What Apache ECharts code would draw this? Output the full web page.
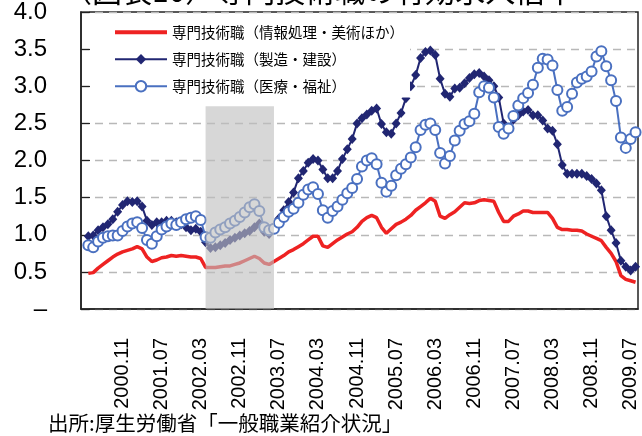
<!DOCTYPE html>
<html>
<head>
<meta charset="utf-8">
<script src="https://cdn.jsdelivr.net/npm/echarts@6/dist/echarts.min.js"></script>
<style>
  html, body { margin: 0; padding: 0; background: #fff; }
  #container { width: 642px; height: 436px; }
</style>
</head>
<body>
<div id="container"></div>
<script>
// 月次カテゴリ（2000.03〜2009.08）
let months = [
  '2000.03', '2000.04', '2000.05', '2000.06', '2000.07', '2000.08', '2000.09', '2000.10', '2000.11', '2000.12',
  '2001.01', '2001.02', '2001.03', '2001.04', '2001.05', '2001.06', '2001.07', '2001.08', '2001.09', '2001.10', '2001.11', '2001.12',
  '2002.01', '2002.02', '2002.03', '2002.04', '2002.05', '2002.06', '2002.07', '2002.08', '2002.09', '2002.10', '2002.11', '2002.12',
  '2003.01', '2003.02', '2003.03', '2003.04', '2003.05', '2003.06', '2003.07', '2003.08', '2003.09', '2003.10', '2003.11', '2003.12',
  '2004.01', '2004.02', '2004.03', '2004.04', '2004.05', '2004.06', '2004.07', '2004.08', '2004.09', '2004.10', '2004.11', '2004.12',
  '2005.01', '2005.02', '2005.03', '2005.04', '2005.05', '2005.06', '2005.07', '2005.08', '2005.09', '2005.10', '2005.11', '2005.12',
  '2006.01', '2006.02', '2006.03', '2006.04', '2006.05', '2006.06', '2006.07', '2006.08', '2006.09', '2006.10', '2006.11', '2006.12',
  '2007.01', '2007.02', '2007.03', '2007.04', '2007.05', '2007.06', '2007.07', '2007.08', '2007.09', '2007.10', '2007.11', '2007.12',
  '2008.01', '2008.02', '2008.03', '2008.04', '2008.05', '2008.06', '2008.07', '2008.08', '2008.09', '2008.10', '2008.11', '2008.12',
  '2009.01', '2009.02', '2009.03', '2009.04', '2009.05', '2009.06', '2009.07', '2009.08'
];
// 目盛ラベルに出す月
let shownLabels = ['2000.11', '2001.07', '2002.03', '2002.11', '2003.07', '2004.03', '2004.11',
  '2005.07', '2006.03', '2006.11', '2007.07', '2008.03', '2008.11', '2009.07'];

let seriesNames = ['専門技術職（情報処理・美術ほか）', '専門技術職（製造・建設）', '専門技術職（医療・福祉）'];

// 情報処理・美術ほか
let infoArt = [null,
  0.48, 0.49, 0.55, 0.60, 0.65, 0.70, 0.74, 0.77, 0.79, 0.81,
  0.84, 0.81, 0.70, 0.64, 0.66, 0.69, 0.70, 0.72, 0.71, 0.72,
  0.71, 0.70, 0.70, 0.68, 0.56, 0.56, 0.56, 0.57, 0.58, 0.58,
  0.60, 0.62, 0.65, 0.68, 0.71, 0.68, 0.62, 0.60, 0.64, 0.68,
  0.72, 0.77, 0.80, 0.84, 0.88, 0.93, 0.98, 0.98, 0.85, 0.83,
  0.88, 0.93, 0.97, 1.01, 1.04, 1.10, 1.18, 1.23, 1.26, 1.23,
  1.10, 1.02, 1.08, 1.14, 1.17, 1.21, 1.26, 1.33, 1.38, 1.43,
  1.49, 1.45, 1.25, 1.22, 1.27, 1.31, 1.37, 1.43, 1.42, 1.43,
  1.46, 1.47, 1.46, 1.45, 1.30, 1.18, 1.18, 1.25, 1.28, 1.32,
  1.32, 1.30, 1.30, 1.30, 1.30, 1.22, 1.10, 1.07, 1.07, 1.06,
  1.06, 1.05, 1.01, 0.98, 0.95, 0.92, 0.83, 0.75, 0.64, 0.45,
  0.40, 0.38, 0.36];
// 製造・建設
let mfgBuild = [null,
  0.98, 0.99, 1.06, 1.10, 1.14, 1.21, 1.31, 1.40, 1.45, 1.44,
  1.45, 1.38, 1.19, 1.13, 1.17, 1.17, 1.19, 1.19, 1.17, 1.14,
  1.10, 1.06, 1.08, 1.04, 0.90, 0.82, 0.83, 0.86, 0.89, 0.93,
  0.96, 0.99, 1.02, 1.05, 1.10, 1.15, 1.04, 1.01, 1.10, 1.22,
  1.33, 1.44, 1.57, 1.76, 1.86, 1.97, 2.02, 2.00, 1.88, 1.76,
  1.76, 1.86, 2.02, 2.15, 2.29, 2.50, 2.57, 2.62, 2.67, 2.70,
  2.49, 2.38, 2.36, 2.50, 2.64, 2.84, 3.00, 3.15, 3.38, 3.46,
  3.48, 3.42, 3.10, 2.90, 2.86, 2.97, 2.98, 3.04, 3.11, 3.16,
  3.18, 3.13, 3.08, 3.00, 2.85, 2.50, 2.44, 2.55, 2.61, 2.66,
  2.68, 2.61, 2.61, 2.54, 2.43, 2.40, 2.22, 1.94, 1.82, 1.82,
  1.82, 1.82, 1.79, 1.75, 1.69, 1.60, 1.25, 1.06, 0.89, 0.65,
  0.57, 0.52, 0.57];
// 医療・福祉
let medWelfare = [null,
  0.86, 0.83, 0.91, 0.96, 0.98, 0.99, 0.99, 1.05, 1.11, 1.15,
  1.17, 1.09, 0.93, 0.88, 0.98, 1.07, 1.11, 1.15, 1.13, 1.17,
  1.21, 1.23, 1.25, 1.20, 0.97, 0.96, 1.03, 1.07, 1.10, 1.15,
  1.19, 1.24, 1.30, 1.37, 1.41, 1.32, 1.10, 1.06, 1.08, 1.16,
  1.24, 1.31, 1.35, 1.43, 1.54, 1.61, 1.64, 1.55, 1.33, 1.23,
  1.32, 1.38, 1.47, 1.56, 1.63, 1.75, 1.92, 2.00, 2.03, 1.95,
  1.70, 1.58, 1.66, 1.80, 1.89, 1.95, 2.04, 2.18, 2.41, 2.48,
  2.50, 2.41, 2.10, 1.96, 2.06, 2.27, 2.40, 2.49, 2.53, 2.63,
  2.92, 3.00, 2.98, 2.85, 2.45, 2.36, 2.43, 2.60, 2.74, 2.84,
  2.91, 3.02, 3.25, 3.37, 3.36, 3.28, 2.95, 2.67, 2.72, 2.90,
  3.05, 3.10, 3.13, 3.20, 3.40, 3.47, 3.27, 3.08, 2.80, 2.31,
  2.17, 2.29, 2.38];

// 網掛け期間
let shadeRange = ['2002.04', '2003.06'];
let shadeTop = 2.73;

let jpFont = '"Noto Sans CJK JP", sans-serif';
let numFont = '"Liberation Sans", Arial, sans-serif';

let dom = document.getElementById('container');
let myChart = echarts.init(dom, null, { renderer: 'canvas' });

let option = {
  animation: false,
  backgroundColor: '#fff',
  title: [
    {
      text: '（図表10）専門技術職の有効求人倍率',
      left: 62,
      top: -24,
      padding: 0,
      textStyle: { fontFamily: jpFont, fontSize: 30, fontWeight: 'normal', color: '#000' }
    },
    {
      text: '出所:厚生労働省「一般職業紹介状況」',
      left: 48,
      top: 413,
      padding: 0,
      textStyle: { fontFamily: jpFont, fontSize: 20.5, fontWeight: 'normal', color: '#000' }
    }
  ],
  legend: {
    orient: 'vertical',
    left: 92,
    top: 21,
    padding: [4, 6, 4, 21],
    backgroundColor: '#fff',
    itemWidth: 52,
    itemHeight: 13,
    itemGap: 12.5,
    data: [
      // 赤線は記号なしで表示
      { name: seriesNames[0], itemStyle: { color: 'rgba(0,0,0,0)', borderWidth: 0 }, lineStyle: { width: 4 } },
      { name: seriesNames[1] },
      { name: seriesNames[2] }
    ],
    textStyle: { fontFamily: jpFont, fontSize: 14.5, color: '#000' }
  },
  grid: {
    left: 81,
    top: 10,
    width: 557,
    height: 299,
    show: true,
    borderColor: '#222',
    borderWidth: 1.5
  },
  xAxis: {
    type: 'category',
    data: months,
    boundaryGap: true,
    axisLine: { lineStyle: { color: '#222', width: 1.5 } },
    axisTick: { show: false },
    axisLabel: {
      interval: function (index, value) { return shownLabels.indexOf(value) >= 0; },
      rotate: 90,
      margin: 29,
      fontFamily: numFont,
      fontSize: 20,
      color: '#000'
    },
    splitLine: { show: false }
  },
  yAxis: {
    type: 'value',
    min: 0,
    max: 4,
    interval: 0.5,
    axisLine: { show: true, lineStyle: { color: '#222', width: 1.5 } },
    axisTick: { show: true, inside: true, length: 9, lineStyle: { color: '#222', width: 1.2 } },
    axisLabel: {
      margin: 34,
      fontFamily: numFont,
      fontSize: 24,
      color: '#000',
      formatter: function (v) { return v === 0 ? '–' : v.toFixed(1); }
    },
    splitLine: { show: true, lineStyle: { color: '#b8b8b8', width: 1.3, type: [8, 6] } }
  },
  series: [
    {
      name: seriesNames[0],
      type: 'line',
      data: infoArt,
      symbol: 'none',
      lineStyle: { color: '#ee2222', width: 3.5 },
      itemStyle: { color: '#ee2222' },
      z: 2
    },
    {
      name: seriesNames[1],
      type: 'line',
      data: mfgBuild,
      symbol: 'diamond',
      symbolSize: [9, 10],
      showAllSymbol: true,
      lineStyle: { color: '#212672', width: 2 },
      itemStyle: { color: '#212672' },
      z: 3
    },
    {
      name: seriesNames[2],
      type: 'line',
      data: medWelfare,
      symbol: 'emptyCircle',
      symbolSize: 10,
      showAllSymbol: true,
      lineStyle: { color: '#4a70c0', width: 2 },
      itemStyle: { color: '#4a70c0', borderWidth: 2 },
      z: 4
    },
    {
      // 網掛けを線の上に重ねるための系列
      name: 'shade',
      type: 'line',
      data: [],
      z: 10,
      silent: true,
      markArea: {
        silent: true,
        z: 20,
        itemStyle: { color: 'rgba(190, 190, 190, 0.62)' },
        data: [[
          { xAxis: shadeRange[0], yAxis: 0 },
          { xAxis: shadeRange[1], yAxis: shadeTop }
        ]]
      }
    }
  ]
};

if (option && typeof option === 'object') {
  myChart.setOption(option, true);
}
</script>
</body>
</html>
